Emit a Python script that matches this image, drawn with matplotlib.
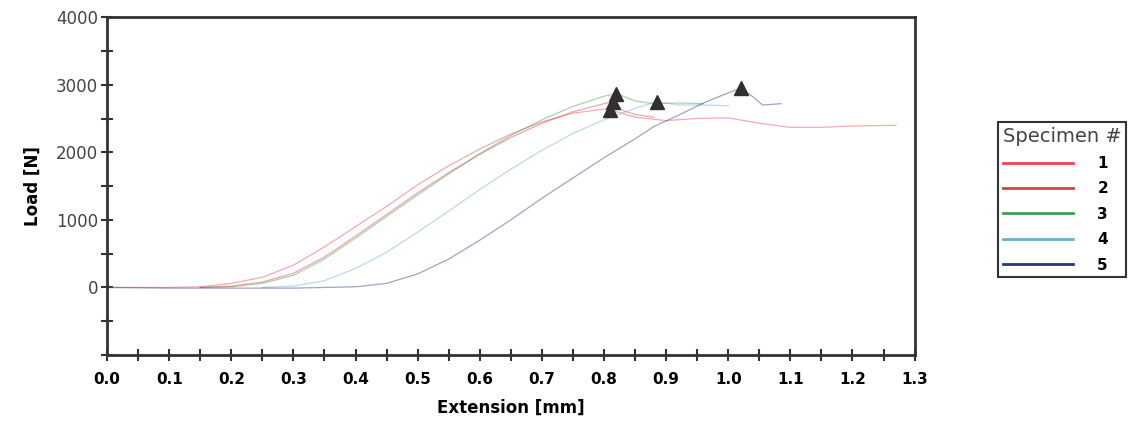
import matplotlib.pyplot as plt
from matplotlib.ticker import MultipleLocator, FixedLocator, FormatStrFormatter

# specimen curves
ext_1 = [0.00, 0.10, 0.15, 0.20, 0.25, 0.30, 0.35, 0.40, 0.45, 0.50, 0.55, 0.60, 0.65,
         0.70, 0.75, 0.80, 0.82, 0.85, 0.90, 0.95, 1.00, 1.05, 1.10, 1.15, 1.20, 1.27]
load_1 = [0, 0, 10, 60, 150, 330, 600, 900, 1200, 1520, 1800, 2050, 2270,
          2450, 2580, 2640, 2600, 2520, 2470, 2500, 2510, 2430, 2370, 2370, 2390, 2400]

ext_2 = [0.15, 0.20, 0.25, 0.30, 0.35, 0.40, 0.45, 0.50, 0.55, 0.60, 0.65, 0.70,
         0.75, 0.80, 0.815, 0.83, 0.85, 0.88]
load_2 = [0, 20, 80, 210, 450, 760, 1080, 1400, 1700, 1970, 2220, 2430,
          2600, 2720, 2750, 2620, 2560, 2520]

ext_3 = [0.15, 0.20, 0.25, 0.30, 0.35, 0.40, 0.45, 0.50, 0.55, 0.60, 0.65, 0.70,
         0.75, 0.80, 0.82, 0.85, 0.88, 0.92, 0.96]
load_3 = [0, 10, 60, 180, 420, 730, 1050, 1370, 1680, 1980, 2250, 2480,
          2680, 2830, 2870, 2760, 2720, 2730, 2720]

ext_4 = [0.25, 0.30, 0.35, 0.40, 0.45, 0.50, 0.55, 0.60, 0.65, 0.70, 0.75, 0.80,
         0.85, 0.885, 0.92, 0.96, 1.00]
load_4 = [0, 20, 100, 280, 520, 820, 1130, 1450, 1750, 2030, 2280, 2480,
          2650, 2750, 2700, 2700, 2690]

ext_5 = [0.00, 0.10, 0.20, 0.30, 0.40, 0.45, 0.50, 0.55, 0.60, 0.65, 0.70, 0.75,
         0.80, 0.85, 0.88, 0.92, 0.96, 1.00, 1.02, 1.04, 1.055, 1.085]
load_5 = [0, -10, -10, -10, 10, 60, 200, 420, 700, 1000, 1320, 1620,
          1920, 2200, 2380, 2550, 2730, 2880, 2950, 2820, 2700, 2720]

# peak (break) markers
peak_ext = [0.81, 0.815, 0.82, 0.885, 1.02]
peak_load = [2620, 2750, 2870, 2750, 2950]

specimens = ['1', '2', '3', '4', '5']
colors = ['#e8464f', '#e03a48', '#3f9e4f', '#6aaed0', '#23397f']

fig = plt.figure(figsize=(11.39, 4.41), dpi=100)
ax = fig.add_axes([0.094, 0.195, 0.709, 0.766])

curves = [(ext_1, load_1), (ext_2, load_2), (ext_3, load_3), (ext_4, load_4), (ext_5, load_5)]
for (x, y), c, lab in zip(curves, colors, specimens):
    # faded thin lines on the plot, solid ones for the legend
    ax.plot(x, y, color=c, lw=0.9, alpha=0.45)
    ax.plot([], [], color=c, lw=2, label=lab)

ax.plot(peak_ext, peak_load, lw=0, marker='^', ms=10, color='#303030')

ax.set_xlim(0, 1.3)
ax.set_ylim(-1000, 4000)
ax.xaxis.set_major_locator(MultipleLocator(0.1))
ax.xaxis.set_minor_locator(MultipleLocator(0.05))
ax.xaxis.set_major_formatter(FormatStrFormatter('%.1f'))
ax.yaxis.set_major_locator(FixedLocator([0, 1000, 2000, 3000, 4000]))
ax.yaxis.set_minor_locator(MultipleLocator(500))

ax.tick_params(which='both', direction='inout', color='#333333', width=1.5)
ax.tick_params(which='major', length=9)
ax.tick_params(which='minor', length=8)
ax.tick_params(axis='x', labelsize=11, pad=8)
ax.tick_params(axis='y', labelsize=12, labelcolor='#444444', pad=2)
for t in ax.get_xticklabels():
    t.set_fontweight('heavy')
for s in ax.spines.values():
    s.set_color('#333333')
    s.set_linewidth(2)

ax.set_xlabel('Extension [mm]', fontsize=12, fontweight='heavy', labelpad=8)
ax.set_ylabel('Load [N]', fontsize=12, fontweight='heavy', labelpad=10)

leg = fig.legend(loc='upper left', bbox_to_anchor=(998 / 1139, 1 - 122 / 441),
                 borderaxespad=0, title='Specimen #', alignment='left',
                 fancybox=False, edgecolor='#333333', handlelength=4.6,
                 handletextpad=1.6, labelspacing=0.68, fontsize=11,
                 title_fontsize=14, borderpad=0.3, framealpha=1)
leg.get_frame().set_linewidth(1.5)
for t in leg.get_texts():
    t.set_fontweight('heavy')
leg.get_title().set_color('#444444')

fig.savefig('out.png', dpi=100)
